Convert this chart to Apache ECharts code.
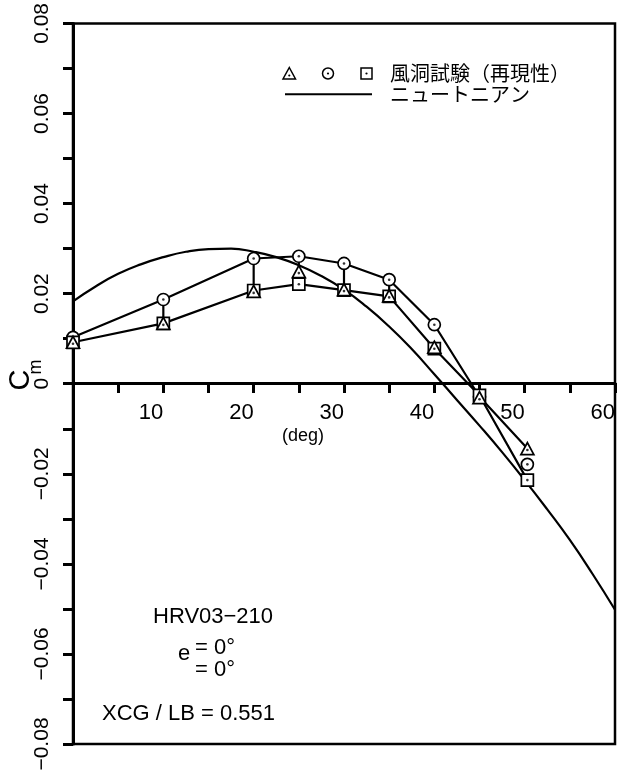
<!DOCTYPE html>
<html>
<head>
<meta charset="utf-8">
<script src="https://cdn.jsdelivr.net/npm/echarts@6/dist/echarts.min.js"></script>
<style>
  html, body { margin: 0; padding: 0; background: #fff; }
  #chart { width: 618px; height: 776px; }
</style>
</head>
<body>
<div id="chart"></div>
<script>
// Angle of attack (deg) for the wind-tunnel runs
const alpha = [0, 10, 20, 25, 30, 35, 40, 45, 50.3];
// Pitching moment coefficient, three repeated runs
const cmTriangle = [0.0092, 0.0134, 0.0205, 0.0249, 0.0209, 0.0195, 0.0081, -0.0031, -0.0144];
const cmCircle   = [0.0103, 0.0187, 0.0278, 0.0283, 0.0267, 0.0231, 0.0131, -0.0029, -0.0179];
const cmSquare   = [0.0092, 0.0134, 0.0207, 0.0221, 0.0208, 0.0194, 0.0078, -0.0026, -0.0214];
// Runs joined by a vertical range bar (circle to triangle)
const rangeIdx = [1, 2, 3, 4, 5];

// Newtonian prediction
const newtonAlpha = [0, 2.5, 5, 7.5, 10, 12.5, 15, 17.5, 20, 22.5, 25, 27.5, 30,
                     32.5, 35, 37.5, 40, 42.5, 45, 47.5, 50, 52.5, 55, 57.5, 60];
const newtonCm = [0.0183, 0.0216, 0.0244, 0.0265, 0.0281, 0.0293, 0.0299, 0.0300, 0.0293,
                  0.0281, 0.0263, 0.0239, 0.0209, 0.0171, 0.0127, 0.0077, 0.0021, -0.0036,
                  -0.0093, -0.0152, -0.0214, -0.0279, -0.0347, -0.0422, -0.0502];

// Axis settings
const xMin = 0, xMax = 60, xStep = 5;
const yMin = -0.08, yMax = 0.08, yStep = 0.01;

// Plot frame
const W = 618, H = 776;
const gridBox = { left: 73, right: 2, top: 22, bottom: 32 };
const gridHeight = H - gridBox.top - gridBox.bottom;
// lift the x axis from the frame bottom up to Cm = 0
const xAxisLift = -gridHeight * (0 - yMin) / (yMax - yMin);

// Connecting polylines: upper run follows circles, then ends on the last triangle
const upperRun = alpha.map((a, i) => [a, i < alpha.length - 1 ? cmCircle[i] : cmTriangle[i]]);
const lowerRun = alpha.map((a, i) => [a, cmSquare[i]]);

const latin = "'Liberation Sans', Arial, sans-serif";
const jp = "'Noto Sans CJK JP', sans-serif";
const lw = 2.2;

const chart = echarts.init(document.getElementById('chart'), null, { renderer: 'canvas' });

function markerSeries(symbol, size, values, z) {
  return [{
    type: 'scatter', symbol: symbol, symbolSize: size, z: z,
    data: alpha.map((a, i) => [a, values[i]]),
    itemStyle: { color: '#fff', borderColor: '#000', borderWidth: 1.7, opacity: 1 },
    emphasis: { disabled: true }
  }, {
    type: 'scatter', symbol: 'circle', symbolSize: 2.6, z: z + 0.5,
    symbolOffset: symbol === 'triangle' ? [0, 1.5] : [0, 0],
    data: alpha.map((a, i) => [a, values[i]]),
    itemStyle: { color: '#000' },
    emphasis: { disabled: true }
  }];
}

function fmtY(v) {
  const k = Math.round(v * 100);
  if (k % 2 !== 0) return '';
  if (k === 0) return '0';
  const s = Math.abs(v).toFixed(2);
  return k < 0 ? '\u2212' + s : s;
}

const option = {
  animation: false,
  backgroundColor: '#fff',
  grid: Object.assign({
    show: true, borderColor: '#000', borderWidth: 2.5, backgroundColor: 'transparent'
  }, gridBox),
  xAxis: {
    type: 'value', min: xMin, max: xMax, interval: xStep,
    position: 'bottom', offset: xAxisLift,
    axisLine: { onZero: false, lineStyle: { color: '#000', width: 3 } },
    axisTick: { show: true, length: 10, lineStyle: { color: '#000', width: 3 } },
    splitLine: { show: false },
    axisLabel: {
      color: '#000', fontFamily: latin, fontSize: 22, margin: 19, align: 'right',
      formatter: v => (v % 10 === 0 && v !== 0) ? String(v) : ''
    }
  },
  yAxis: {
    type: 'value', min: yMin, max: yMax, interval: yStep,
    axisLine: { lineStyle: { color: '#000', width: 3 } },
    axisTick: { show: true, length: 10, lineStyle: { color: '#000', width: 3 } },
    splitLine: { show: false },
    axisLabel: {
      color: '#000', fontFamily: latin, fontSize: 21, rotate: 90, margin: 20,
      formatter: fmtY
    }
  },
  series: [
    {
      type: 'line', data: newtonAlpha.map((a, i) => [a, newtonCm[i]]),
      smooth: true, symbol: 'none', z: 2,
      lineStyle: { color: '#000', width: lw }, emphasis: { disabled: true }
    },
    {
      type: 'line', data: upperRun, symbol: 'none', z: 2,
      lineStyle: { color: '#000', width: lw }, emphasis: { disabled: true }
    },
    {
      type: 'line', data: lowerRun, symbol: 'none', z: 2,
      lineStyle: { color: '#000', width: lw }, emphasis: { disabled: true }
    },
    {
      type: 'custom', z: 2,
      data: rangeIdx.map(i => [alpha[i], cmCircle[i], cmTriangle[i]]),
      encode: { x: 0, y: [1, 2] },
      renderItem: function (params, api) {
        const p1 = api.coord([api.value(0), api.value(1)]);
        const p2 = api.coord([api.value(0), api.value(2)]);
        return {
          type: 'line',
          shape: { x1: p1[0], y1: p1[1], x2: p2[0], y2: p2[1] },
          style: { stroke: '#000', lineWidth: lw }
        };
      }
    },
    ...markerSeries('circle', 12, cmCircle, 3),
    ...markerSeries('rect', 12, cmSquare, 4),
    ...markerSeries('triangle', [13, 12], cmTriangle, 5)
  ],
  graphic: [
    // y-axis title C_m
    {
      type: 'text', x: 21, y: 380, rotation: Math.PI / 2,
      style: { text: 'C', font: '29px ' + latin, fill: '#000', textAlign: 'center', textVerticalAlign: 'middle' }
    },
    {
      type: 'text', x: 36, y: 367, rotation: Math.PI / 2,
      style: { text: 'm', font: '18px ' + latin, fill: '#000', textAlign: 'center', textVerticalAlign: 'middle' }
    },
    // x-axis unit
    {
      type: 'text', x: 303, y: 436,
      style: { text: '(deg)', font: '18px ' + latin, fill: '#000', textAlign: 'center', textVerticalAlign: 'middle' }
    },
    // key
    {
      type: 'polygon', shape: { points: [[289.3, 67.5], [295.5, 79], [283, 79]] },
      style: { fill: '#fff', stroke: '#000', lineWidth: 1.5 }
    },
    { type: 'circle', shape: { cx: 289.3, cy: 75.5, r: 1.1 }, style: { fill: '#000' } },
    { type: 'circle', shape: { cx: 328, cy: 73.5, r: 5.5 }, style: { fill: '#fff', stroke: '#000', lineWidth: 1.5 } },
    { type: 'circle', shape: { cx: 328, cy: 73.5, r: 1.1 }, style: { fill: '#000' } },
    { type: 'rect', shape: { x: 361, y: 68, width: 11, height: 11 }, style: { fill: '#fff', stroke: '#000', lineWidth: 1.5 } },
    { type: 'circle', shape: { cx: 366.5, cy: 73.5, r: 1.1 }, style: { fill: '#000' } },
    {
      type: 'text', x: 390, y: 73,
      style: { text: '風洞試験（再現性）', font: '20px ' + jp, fill: '#000', textVerticalAlign: 'middle' }
    },
    { type: 'line', shape: { x1: 285, y1: 94.3, x2: 372, y2: 94.3 }, style: { stroke: '#000', lineWidth: 2 } },
    {
      type: 'text', x: 390, y: 94,
      style: { text: 'ニュートニアン', font: '20px ' + jp, fill: '#000', textVerticalAlign: 'middle' }
    },
    // configuration notes
    {
      type: 'text', x: 153, y: 617,
      style: { text: 'HRV03\u2212210', font: '22px ' + latin, fill: '#000', textVerticalAlign: 'middle' }
    },
    {
      type: 'text', x: 178, y: 654,
      style: { text: 'e', font: '22px ' + latin, fill: '#000', textVerticalAlign: 'middle' }
    },
    {
      type: 'text', x: 195, y: 648,
      style: { text: '= 0°', font: '22px ' + latin, fill: '#000', textVerticalAlign: 'middle' }
    },
    {
      type: 'text', x: 195, y: 670,
      style: { text: '= 0°', font: '22px ' + latin, fill: '#000', textVerticalAlign: 'middle' }
    },
    {
      type: 'text', x: 102, y: 714,
      style: { text: 'XCG / LB = 0.551', font: '22px ' + latin, fill: '#000', textVerticalAlign: 'middle' }
    }
  ]
};

chart.setOption(option);
</script>
</body>
</html>
